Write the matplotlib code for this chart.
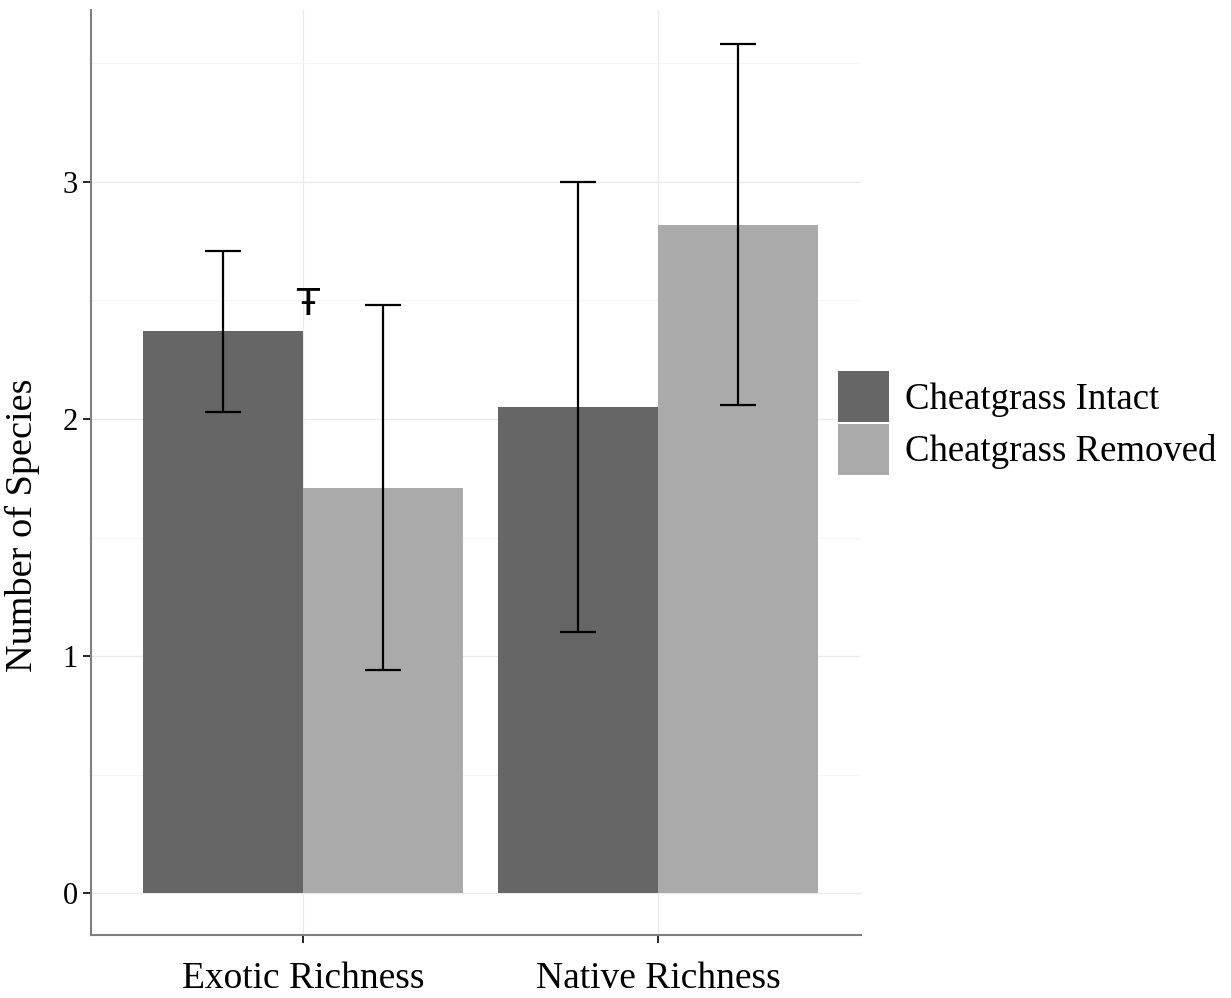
import matplotlib
matplotlib.use("Agg")
from matplotlib import pyplot as plt
from matplotlib.patches import Patch
import numpy as np

plt.rcParams['font.family'] = ['Liberation Serif', 'DejaVu Serif']

categories = ['Exotic Richness', 'Native Richness']
groups = ['Cheatgrass Intact', 'Cheatgrass Removed']
means_intact = [2.37, 2.05]
means_removed = [1.71, 2.82]
low_intact = [2.03, 1.10]
high_intact = [2.71, 3.00]
low_removed = [0.94, 2.06]
high_removed = [2.48, 3.58]
colors = ['#666666', '#aaaaaa']

fig = plt.figure(figsize=(12.31, 9.98), dpi=100)
ax = fig.add_axes([0.0739, 0.0631, 0.6255, 0.927])

x = np.arange(1, len(categories) + 1)
w = 0.45
bar_x = [x - w / 2, x + w / 2]
means = [means_intact, means_removed]
lows = [low_intact, low_removed]
highs = [high_intact, high_removed]

for i in range(2):
    ax.bar(bar_x[i], means[i], width=w, color=colors[i], zorder=2)
    m = np.array(means[i])
    err = [m - np.array(lows[i]), np.array(highs[i]) - m]
    ax.errorbar(bar_x[i], m, yerr=err, fmt='none', ecolor='black',
                elinewidth=1.6, capsize=13, capthick=1.6, zorder=3)

# marginal significance marker
ax.text(1.013, 2.48, '\u0166', fontsize=27, ha='center', va='center',
        family=['DejaVu Sans'], zorder=4)

ax.set_xlim(0.403, 2.572)
ax.set_ylim(-0.177, 3.726)
ax.set_xticks(x)
ax.set_xticklabels(categories)
ax.set_yticks([0, 1, 2, 3])
ax.set_yticks([0.5, 1.5, 2.5, 3.5], minor=True)
ax.tick_params(axis='both', which='major', length=6, width=1.2,
               color='black', labelcolor='black')
ax.tick_params(axis='y', which='major', labelsize=22)
ax.tick_params(axis='x', which='major', labelsize=27, pad=13)
ax.tick_params(axis='y', which='minor', length=0)
ax.grid(True, which='major', color='#ebebeb', linewidth=1.0, zorder=0)
ax.grid(True, which='minor', axis='y', color='#f5f5f5', linewidth=0.8, zorder=0)
ax.set_axisbelow(True)

for s in ['top', 'right']:
    ax.spines[s].set_visible(False)
for s in ['left', 'bottom']:
    ax.spines[s].set_color('#808080')
    ax.spines[s].set_linewidth(1.5)

ax.set_ylabel('Number of Species', fontsize=27.5)
ax.yaxis.set_label_coords(-0.066, 0.443)

handles = [Patch(facecolor=colors[0], edgecolor='none'),
           Patch(facecolor=colors[1], edgecolor='none')]
fig.legend(handles, groups, loc='center left', bbox_to_anchor=(0.6807, 0.576),
           frameon=False, fontsize=26.5, handlelength=1.39, handleheight=1.755,
           handletextpad=0.43, labelspacing=0.05, borderaxespad=0, borderpad=0)

fig.savefig('out.png', dpi=100)
